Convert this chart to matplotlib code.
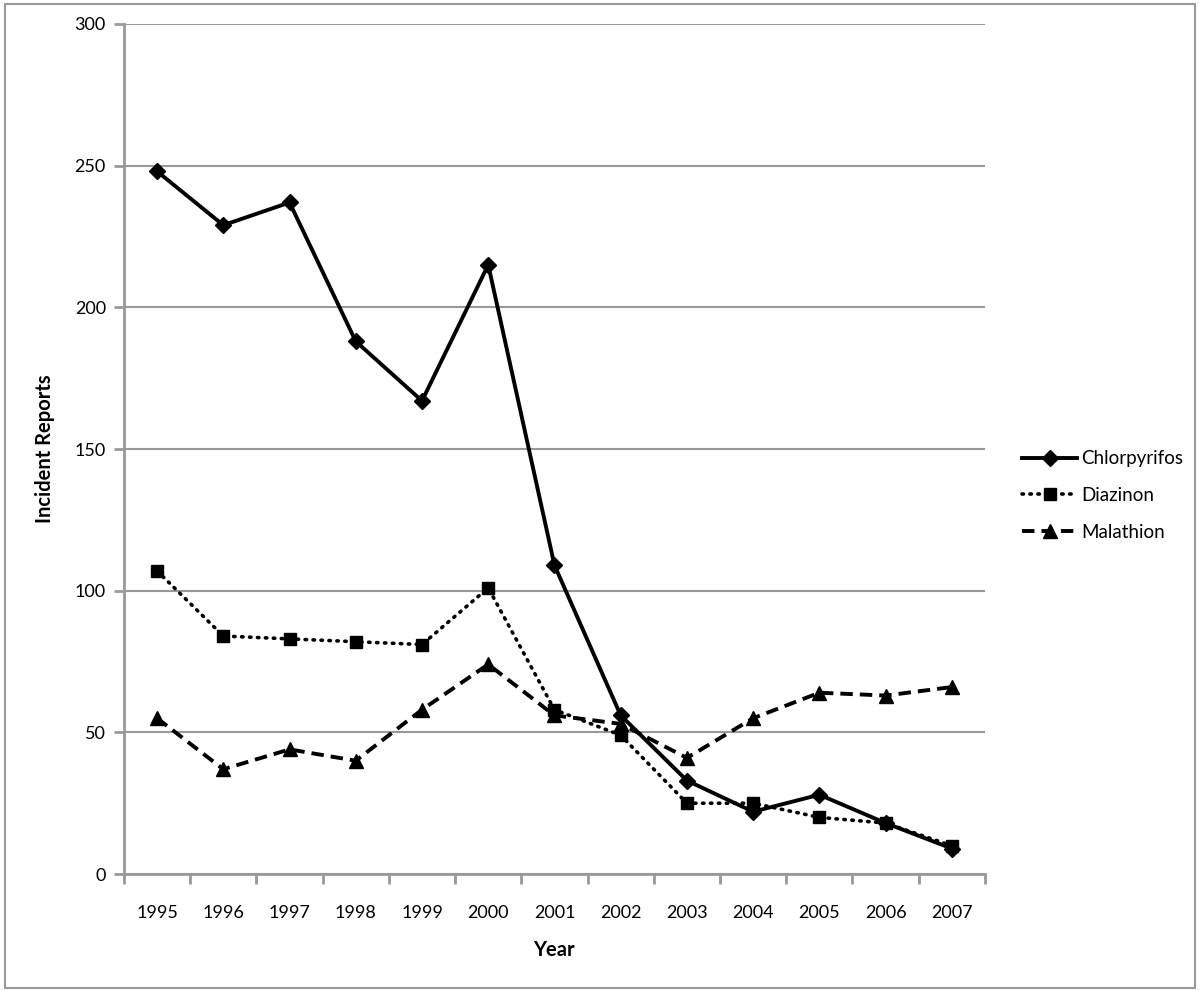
import numpy as np
import matplotlib.pyplot as plt
from matplotlib.patches import Rectangle

plt.rcParams['font.family'] = ['Lato', 'DejaVu Sans']

years = ['1995', '1996', '1997', '1998', '1999', '2000', '2001',
         '2002', '2003', '2004', '2005', '2006', '2007']
chlorpyrifos = [248, 229, 237, 188, 167, 215, 109, 56, 33, 22, 28, 18, 9]
diazinon = [107, 84, 83, 82, 81, 101, 58, 49, 25, 25, 20, 18, 10]
malathion = [55, 37, 44, 40, 58, 74, 56, 53, 41, 55, 64, 63, 66]

fig = plt.figure(figsize=(12, 9.91), dpi=100)
ax = fig.add_axes([0.1033, 0.118, 0.7175, 0.8578])

x = np.arange(len(years))
ax.plot(x, chlorpyrifos, color='black', lw=2.8, marker='D', ms=8.5, label='Chlorpyrifos')
ax.plot(x, diazinon, color='black', lw=2.6, ls=(0, (0.4, 1.8)), marker='s', ms=9,
        dash_capstyle='round', label='Diazinon')
ax.plot(x, malathion, color='black', lw=2.8, ls=(0, (3.2, 1.8)), marker='^', ms=10, label='Malathion')

ax.set_xlim(-0.5, len(years) - 0.5)
ax.set_ylim(0, 300)
ax.set_yticks(np.arange(0, 301, 50))
ax.set_xticks(x)
ax.set_xticklabels(years)
ax.set_xticks(np.arange(-0.5, len(years), 1), minor=True)
ax.tick_params(axis='x', which='major', length=0, pad=22, labelsize=13)
ax.tick_params(axis='x', which='minor', length=7, width=2, color='#999999')
ax.tick_params(axis='y', length=7, width=2, color='#999999', labelsize=13, pad=6)

ax.grid(axis='y', color='#999999', lw=1.5)
ax.set_axisbelow(True)
for s in ['top', 'right']:
    ax.spines[s].set_visible(False)
for s in ['left', 'bottom']:
    ax.spines[s].set_color('#999999')
    ax.spines[s].set_linewidth(2)

ax.set_xlabel('Year', fontsize=14.5, fontweight='bold', labelpad=14)
ax.set_ylabel('Incident Reports', fontsize=14.5, fontweight='bold', labelpad=14)

fig.legend(loc='center left', bbox_to_anchor=(0.838, 0.5), frameon=False,
           fontsize=13.5, handlelength=2.9, labelspacing=1.05, handletextpad=0.25)

fig.patches.append(Rectangle((0.004, 0.003), 0.992, 0.993, transform=fig.transFigure,
                             fill=False, edgecolor='#999999', lw=1.5))

fig.savefig('out.png', dpi=100)
